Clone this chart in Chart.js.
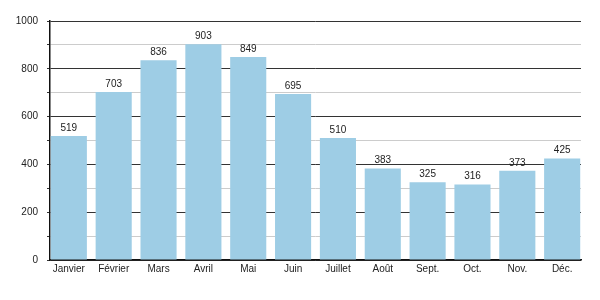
<!DOCTYPE html>
<html>
<head>
<meta charset="utf-8">
<script src="https://cdn.jsdelivr.net/npm/chart.js@4/dist/chart.umd.min.js"></script>
<style>
  body { margin: 0; background: #fff; }
  #wrap { width: 600px; height: 300px; }
</style>
</head>
<body>
<div id="wrap"><canvas id="barChart" width="600" height="300"></canvas></div>
<script>
const months = ['Janvier', 'Février', 'Mars', 'Avril', 'Mai', 'Juin', 'Juillet', 'Août', 'Sept.', 'Oct.', 'Nov.', 'Déc.'];
const values = [519, 703, 836, 903, 849, 695, 510, 383, 325, 316, 373, 425];
const yTicks = [0, 200, 400, 600, 800, 1000];

Chart.defaults.font.family = '"Liberation Sans", Arial, sans-serif';
Chart.defaults.font.size = 10;
Chart.defaults.color = '#222';

// value written above each bar
const barValues = {
  id: 'barValues',
  afterDatasetsDraw(chart) {
    const ctx = chart.ctx;
    const meta = chart.getDatasetMeta(0);
    ctx.save();
    ctx.font = '10px "Liberation Sans", Arial, sans-serif';
    ctx.fillStyle = '#222';
    ctx.textAlign = 'center';
    ctx.textBaseline = 'bottom';
    meta.data.forEach((bar, i) => {
      ctx.fillText(values[i], bar.x, bar.y - 3);
    });
    ctx.restore();
  }
};

const ctx = document.getElementById('barChart').getContext('2d');
new Chart(ctx, {
  type: 'bar',
  data: {
    datasets: [{
      data: values.map((v, i) => ({ x: i, y: v })),
      backgroundColor: '#9ecde5',
      barPercentage: 0.805,
      categoryPercentage: 1
    }]
  },
  options: {
    responsive: false,
    animation: false,
    layout: { padding: { left: 0, right: 19, top: 21, bottom: 22 } },
    plugins: { legend: { display: false }, tooltip: { enabled: false } },
    scales: {
      x: {
        type: 'linear',
        offset: false,
        min: -0.42,
        max: 11.42,
        afterBuildTicks: (scale) => { scale.ticks = months.map((m, i) => ({ value: i })); },
        ticks: {
          autoSkip: false,
          maxRotation: 0,
          padding: 3,
          color: '#222',
          callback: (value) => months[value]
        },
        grid: { display: false, drawTicks: false },
        border: { display: true, color: '#111', width: 1.5 }
      },
      y: {
        min: 0,
        max: 1000,
        afterFit: (scale) => { scale.width = 50; },
        ticks: {
          stepSize: 100,
          autoSkip: false,
          padding: 9,
          color: '#222',
          callback: (value) => yTicks.includes(value) ? value : ''
        },
        grid: {
          color: (c) => c.tick && c.tick.value % 200 === 0 ? '#333' : '#ccc',
          tickColor: '#333',
          tickLength: 3,
          lineWidth: 1
        },
        border: { display: true, color: '#111', width: 1.5 }
      }
    }
  },
  plugins: [barValues]
});
</script>
</body>
</html>
